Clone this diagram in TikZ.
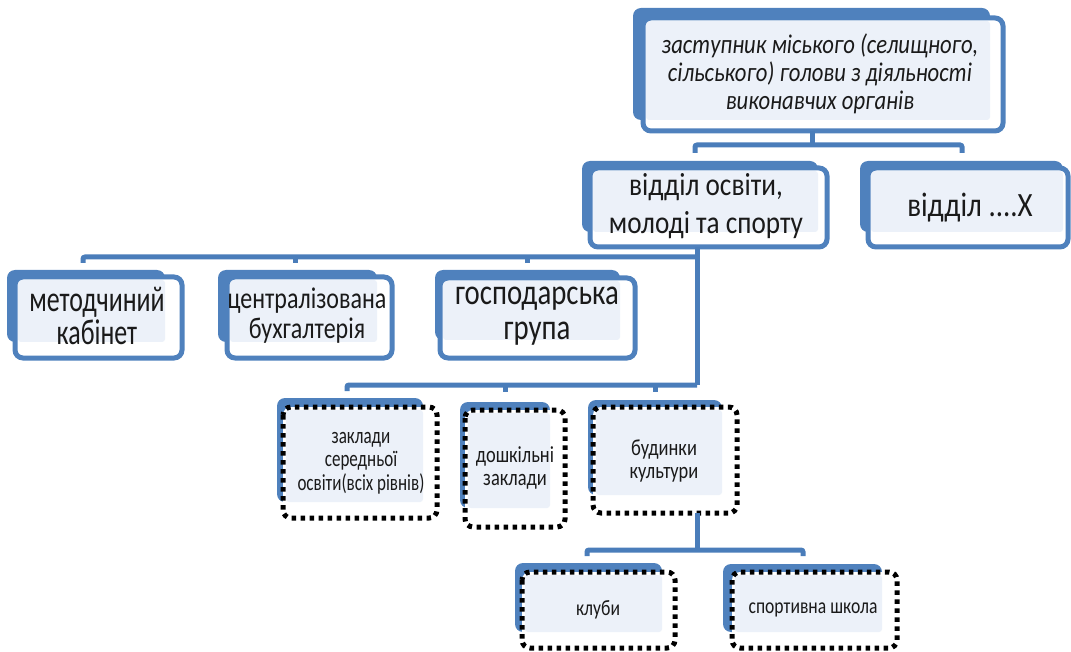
\documentclass[tikz,border=0pt]{standalone}
\usepackage{fontspec}
\setmainfont{Carlito}
\newfontfamily\cfA[FakeStretch=0.84]{Carlito}
\newfontfamily\cfB[FakeStretch=0.8]{Carlito}
\newfontfamily\cfC[FakeStretch=0.72]{Carlito}
\newfontfamily\cfD[FakeStretch=0.85]{Carlito}
\newfontfamily\cfE[FakeStretch=0.74]{Carlito}
\usetikzlibrary{calc}
\definecolor{ablue}{HTML}{4F81BD}
\definecolor{cblue}{HTML}{4A7DBA}
\definecolor{lfillc}{HTML}{ECF1F9}
\definecolor{txt}{HTML}{1A1A1A}
\tikzset{
  abox/.style={fill=ablue, rounded corners=8pt},
  bwhite/.style={fill=white, rounded corners=8pt},
  lfill/.style={fill=lfillc, rounded corners=3pt},
  bsolid/.style={draw=ablue, line width=5pt, rounded corners=8pt},
  bdot/.style={draw=black, line width=5pt, dash pattern=on 4.5pt off 4.5pt, rounded corners=8pt},
  conn/.style={draw=cblue, line width=5pt, rounded corners=2pt},
  lab/.style={align=center, text=txt, inner sep=0pt},
}
% #1 name, #2-#5 back box, #6-#9 front box
\newcommand\oboxs[9]{%
  \fill[abox] (#2,#3) rectangle (#4,#5);
  \fill[bwhite] (#6,#7) rectangle (#8,#9);
  \fill[lfill] ({#6+3},{#7+3}) rectangle (#4,#5);
  \draw[bsolid] (#6,#7) rectangle (#8,#9);
  \coordinate (#1-nw) at (#6,#7);
  \coordinate (#1-se) at (#8,#9);
}
\newcommand\oboxd[9]{%
  \fill[abox] (#2,#3) rectangle (#4,#5);
  \fill[bwhite] (#6,#7) rectangle (#8,#9);
  \fill[lfill] ({#6+3},{#7+3}) rectangle (#4,#5);
  \draw[bdot] (#6,#7) rectangle (#8,#9);
  \coordinate (#1-nw) at (#6,#7);
  \coordinate (#1-se) at (#8,#9);
}
\begin{document}
\begin{tikzpicture}[x=1pt,y=-1pt]
\useasboundingbox (0,0) rectangle (1071,652);
% junction coordinates
\coordinate (j1) at (812,145);
\coordinate (j2) at (697,257);
\coordinate (j3) at (697,385);
\coordinate (j4) at (697,550);
% boxes
\oboxs{dep}{633}{8}{990}{120}{643}{18}{1003}{131}
\oboxs{osv}{582}{161}{818}{232}{590}{168}{827}{247}
\oboxs{vx}{860}{161}{1063}{232}{868}{168}{1068}{247}
\oboxs{met}{7}{270}{165}{342}{15}{277}{182}{358}
\oboxs{buh}{218}{270}{377}{342}{227}{277}{392}{358}
\oboxs{gosp}{435}{270}{620}{340}{440}{278}{635}{358}
\oboxd{zak}{277}{398}{423}{502}{283}{407}{437}{518}
\oboxd{dosh}{460}{402}{550}{508}{465}{410}{565}{527}
\oboxd{bud}{588}{400}{722}{495}{593}{407}{737}{513}
\oboxd{klub}{515}{563}{662}{632}{522}{572}{675}{648}
\oboxd{sport}{723}{564}{882}{632}{732}{572}{897}{648}
% connectors
\draw[conn] (j1 |- dep-se) -- (j1);
\draw[conn] (695,153) -- (695,145) -- (962,145) -- (962,153);
\draw[conn] (j2 |- osv-se) -- (j3);
\draw[conn] (83,263) -- (83,257) -- (j2);
\draw[conn] (295,257) -- (295,263);
\draw[conn] (527,257) -- (527,263);
\draw[conn] (347,391) -- (347,385) -- (j3);
\draw[conn] (505,385) -- (505,392);
\draw[conn] (655,385) -- (655,392);
\draw[conn] (j4 |- bud-se) -- (j4);
\draw[conn] (587,556) -- (587,550) -- (803,550) -- (803,556);
% labels
\node[lab, font={\cfA\itshape\fontsize{27}{28}\selectfont}] (tdep) at (820,74) {заступник міського (селищного,\\сільського) голови з діяльності\\виконавчих органів};
\node[lab, font={\cfD\fontsize{32}{38}\selectfont}] (tosv) at (706,206) {відділ освіти,\\молоді та спорту};
\node[lab, font={\cfD\fontsize{34}{38}\selectfont}] (tvx) at (970,208) {відділ ....Х};
\node[lab, font={\cfC\fontsize{36}{33}\selectfont}] (tmet) at (97,316) {методчиний\\кабінет};
\node[lab, font={\cfB\fontsize{30}{30}\selectfont}] (tbuh) at (307,316) {централізована\\бухгалтерія};
\node[lab, font={\cfB\fontsize{36}{35}\selectfont}] (tgosp) at (537,316) {господарська\\група};
\node[lab, font={\cfE\fontsize{23}{23.5}\selectfont}] (tzak) at (361,463) {заклади\\середньої\\освіти(всіх рівнів)};
\node[lab, font={\cfB\fontsize{23}{23}\selectfont}] (tdosh) at (515,468) {дошкільні\\заклади};
\node[lab, font={\cfB\fontsize{23}{23}\selectfont}] (tbud) at (664,461) {будинки\\культури};
\node[lab, font={\cfB\fontsize{22}{22}\selectfont}] (tklub) at (598,610) {клуби};
\node[lab, font={\cfB\fontsize{22}{22}\selectfont}] (tsport) at (813,610) {спортивна школа};
\end{tikzpicture}
\end{document}
